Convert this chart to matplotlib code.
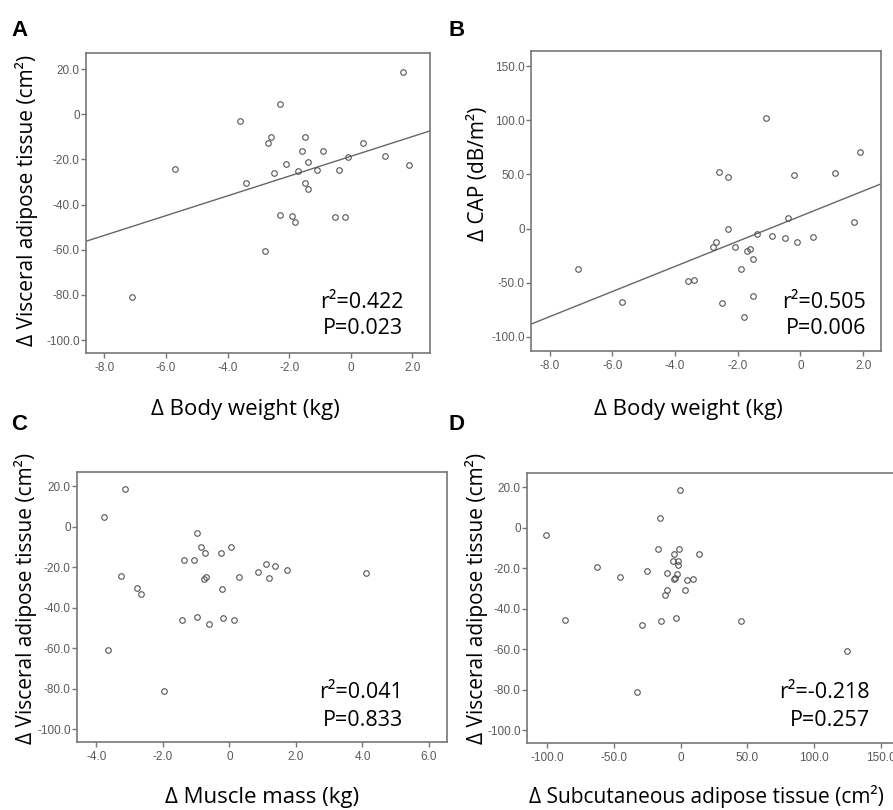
import numpy as np
import matplotlib
matplotlib.use("Agg")
import matplotlib.pyplot as plt

# panel A: body weight vs visceral adipose tissue
a_x = [-7.1, -5.7, -3.6, -3.4, -2.3, -2.6, -2.7, -2.5, -2.3, -2.8, -2.1, -1.9, -1.8, -1.7, -1.6,
       -1.5, -1.4, -1.5, -1.4, -1.1, -0.9, -0.5, -0.2, -0.4, -0.1, 0.4, 1.1, 1.9, 1.7]
a_y = [-81.0, -24.4, -3.2, -30.3, 4.6, -10.1, -12.7, -25.8, -44.5, -60.6, -22.2, -45.1, -47.9, -25.1, -16.5,
       -10.0, -21.1, -30.3, -33.0, -24.9, -16.2, -45.7, -45.7, -24.6, -19.1, -12.6, -18.5, -22.4, 18.7]

# panel B: body weight vs CAP
b_x = [-7.1, -5.7, -3.6, -3.4, -2.6, -2.3, -2.3, -2.7, -2.8, -2.5, -2.1, -1.9, -1.7, -1.6,
       -1.5, -1.5, -1.8, -1.4, -1.1, -0.9, -0.5, -0.4, -0.2, -0.1, 0.4, 1.1, 1.7, 1.9]
b_y = [-37.8, -67.7, -48.9, -48.0, 52.3, 47.4, -0.6, -12.9, -16.9, -68.9, -16.9, -37.8, -20.9, -18.8,
       -27.7, -62.8, -81.8, -4.9, 102.2, -7.1, -8.6, 9.8, 49.2, -12.9, -7.7, 51.1, 6.2, 71.1]

# panel C: muscle mass vs visceral adipose tissue
c_x = [-3.77, -3.15, -3.27, -2.78, -2.65, -3.65, -1.96, -1.35, -1.07, -0.96, -0.85, -0.72, -0.25, 0.05,
       -0.76, -0.69, -0.23, 0.29, -1.41, -0.96, -0.60, -0.20, 0.14, 0.87, 1.09, 1.19, 1.36, 1.73, 4.12]
c_y = [4.6, 18.6, -24.3, -30.4, -33.1, -60.7, -81.1, -16.4, -16.4, -3.3, -10.2, -12.8, -12.8, -10.2,
       -26.0, -25.0, -30.6, -24.8, -45.9, -44.6, -48.2, -45.2, -45.9, -22.4, -18.6, -25.2, -19.2, -21.2, -22.7]

# panel D: subcutaneous adipose tissue vs visceral adipose tissue
d_x = [-100.5, -86.4, -62.6, -45.5, -32.4, -29.1, -25.1, -15.6, -16.6, -14.3, -11.3, -9.8, -9.8, -6.0, -5.0,
       -4.8, -3.8, -3.5, -2.5, -2.0, -1.8, -1.3, -0.5, 3.0, 4.5, 9.5, 14.1, 45.0, 124.9]
d_y = [-3.5, -45.4, -19.2, -24.5, -81.3, -48.2, -21.2, 4.6, -10.4, -45.9, -33.2, -30.6, -22.5, -16.6, -13.0,
       -25.2, -24.8, -44.7, -22.9, -16.6, -18.6, -10.4, 18.6, -30.6, -26.0, -25.3, -13.0, -46.1, -61.0]

vat_ticks = [20, 0, -20, -40, -60, -80, -100]
vat_labels = ["20.0", "0", "-20.0", "-40.0", "-60.0", "-80.0", "-100.0"]
cap_ticks = [150, 100, 50, 0, -50, -100]
cap_labels = ["150.0", "100.0", "50.0", "0", "-50.0", "-100.0"]
bw_ticks = [-8, -6, -4, -2, 0, 2]
bw_labels = ["-8.0", "-6.0", "-4.0", "-2.0", "0", "2.0"]
mm_ticks = [-4, -2, 0, 2, 4, 6]
mm_labels = ["-4.0", "-2.0", "0", "2.0", "4.0", "6.0"]
sat_ticks = [-100, -50, 0, 50, 100, 150]
sat_labels = ["-100.0", "-50.0", "0", "50.0", "100.0", "150.0"]

W, H = 893, 810
fig = plt.figure(figsize=(W / 100, H / 100), dpi=100)
lab_font = ["Open Sans", "DejaVu Sans"]
gray = "#777777"


def make_ax(l, r, t, b):
    ax = fig.add_axes([l / W, 1 - b / H, (r - l) / W, (b - t) / H])
    for s in ax.spines.values():
        s.set_color(gray)
        s.set_linewidth(1.2)
    ax.tick_params(direction="out", length=3.5, width=1, color=gray, labelcolor="#5a5a5a",
                   labelsize=8.5)
    ax.tick_params(axis="x", pad=3)
    ax.tick_params(axis="y", pad=1)
    return ax


def scatter(ax, x, y, xl, yl, xt, xtl, yt, ytl, fit=False):
    ax.plot(x, y, "o", ms=4, mfc="none", mec="#555555", mew=0.8, zorder=3)
    if fit:
        k, c = np.polyfit(x, y, 1)
        xx = np.array(xl)
        ax.plot(xx, k * xx + c, color="#666666", lw=1)
    ax.set_xlim(xl)
    ax.set_ylim(yl)
    ax.set_xticks(xt)
    ax.set_xticklabels(xtl, family="Liberation Sans")
    ax.set_yticks(yt)
    ax.set_yticklabels(ytl, family="Liberation Sans")


axA = make_ax(86, 430, 53, 353)
scatter(axA, a_x, a_y, (-8.6, 2.57), (-105.7, 27.1), bw_ticks, bw_labels, vat_ticks, vat_labels, fit=True)

axB = make_ax(531, 881, 51, 351)
scatter(axB, b_x, b_y, (-8.6, 2.57), (-113.2, 164.1), bw_ticks, bw_labels, cap_ticks, cap_labels, fit=True)

axC = make_ax(77, 447, 472, 742)
scatter(axC, c_x, c_y, (-4.58, 6.54), (-106.3, 27.0), mm_ticks, mm_labels, vat_ticks, vat_labels)

axD = make_ax(527, 910, 473, 743)
scatter(axD, d_x, d_y, (-115.1, 172.0), (-106.3, 27.0), sat_ticks, sat_labels, vat_ticks, vat_labels)


def ftext(x, y, s, **kw):
    fig.text(x / W, 1 - y / H, s, **kw)


# panel letters
for x, y, s in [(11, 30, "A"), (449, 30, "B"), (11, 425, "C"), (449, 425, "D")]:
    ftext(x, y, s, fontsize=16, fontweight="bold", family="Liberation Sans", va="center", ha="left")

# axis labels
ftext(245, 410, "Δ Body weight (kg)", fontsize=16, family=lab_font, ha="center", va="center")
ftext(688, 410, "Δ Body weight (kg)", fontsize=16, family=lab_font, ha="center", va="center")
ftext(262, 797, "Δ Muscle mass (kg)", fontsize=16, family=lab_font, ha="center", va="center")
ftext(706, 797, "Δ Subcutaneous adipose tissue (cm²)", fontsize=15, family=lab_font, ha="center", va="center")
ftext(27, 200, "Δ Visceral adipose tissue (cm²)", fontsize=15, family=lab_font, ha="center", va="center", rotation=90)
ftext(479, 174, "Δ CAP (dB/m²)", fontsize=15, family=lab_font, ha="center", va="center", rotation=90)
ftext(26, 598, "Δ Visceral adipose tissue (cm²)", fontsize=15, family=lab_font, ha="center", va="center", rotation=90)
ftext(477, 598, "Δ Visceral adipose tissue (cm²)", fontsize=15, family=lab_font, ha="center", va="center", rotation=90)

# statistics
stats = [(403, 303, 329, "r²=0.422", "P=0.023"),
         (866, 303, 329, "r²=0.505", "P=0.006"),
         (403, 693, 720, "r²=0.041", "P=0.833"),
         (870, 693, 720, "r²=-0.218", "P=0.257")]
for x, y1, y2, s1, s2 in stats:
    ftext(x, y1, s1, fontsize=15.5, family=lab_font, ha="right", va="center")
    ftext(x, y2, s2, fontsize=15.5, family=lab_font, ha="right", va="center")

fig.savefig("out.png", dpi=100)
